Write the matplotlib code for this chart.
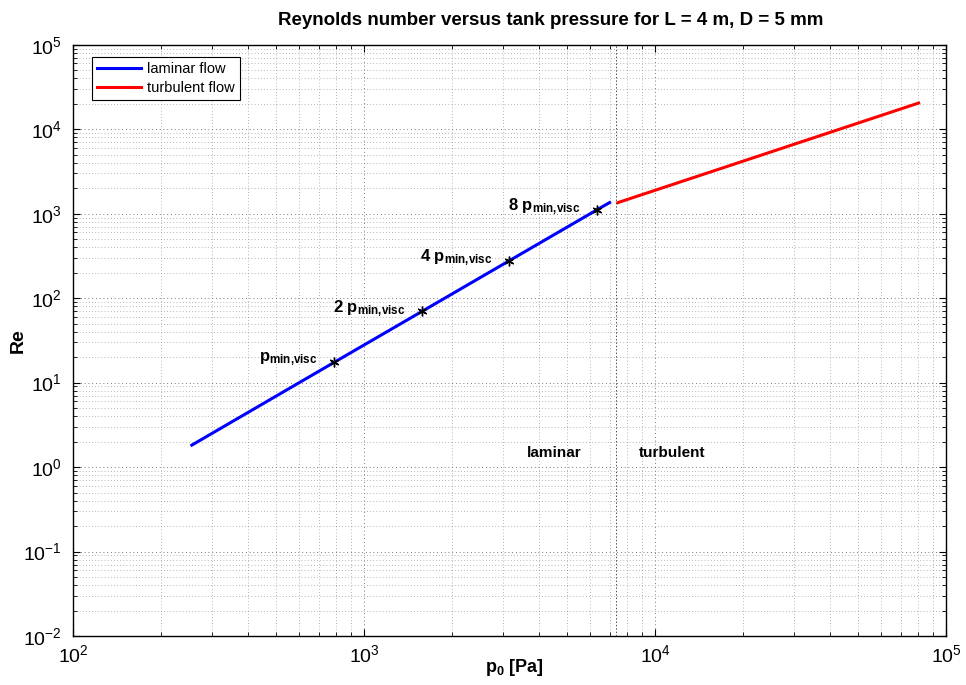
import numpy as np
from matplotlib import pyplot as plt
from matplotlib.ticker import LogLocator, NullFormatter

plt.rcParams['font.family'] = ['Liberation Sans', 'DejaVu Sans']
plt.rcParams['mathtext.fontset'] = 'custom'
plt.rcParams['mathtext.rm'] = 'Liberation Sans'
plt.rcParams['mathtext.it'] = 'Liberation Sans:italic'
plt.rcParams['mathtext.bf'] = 'Liberation Sans:bold'

# laminar branch
p_laminar = [256, 790, 1580, 3160, 6320, 6980]
Re_laminar = [1.82, 17.4, 69.5, 278, 1112, 1353]

# turbulent branch
p_turbulent = [7460, 80500]
Re_turbulent = [1353, 20400]

# marked multiples of p_min,visc
p_marks = [790, 1580, 3160, 6320]
Re_marks = [17.4, 69.5, 278, 1112]
mark_labels = [r'$\mathbf{p_{min{,}visc}}$', r'$\mathbf{2\ p_{min{,}visc}}$',
               r'$\mathbf{4\ p_{min{,}visc}}$', r'$\mathbf{8\ p_{min{,}visc}}$']

p_transition = 7330
region_labels = ['laminar', 'turbulent']
p_region = [5580, 8830]
Re_region = 1.45

fig = plt.figure(figsize=(9.66, 6.85), dpi=100)
ax = fig.add_axes([0.0756, 0.0715, 0.9037, 0.8632])

ax.loglog(p_laminar, Re_laminar, color=(0, 0, 1), lw=2.2, label='laminar flow')
ax.loglog(p_turbulent, Re_turbulent, color=(1, 0, 0), lw=2.2, label='turbulent flow')
ax.plot(p_marks, Re_marks, ls='none', marker=(6, 2, 0), color='k', ms=7, mew=1.0)
ax.axvline(p_transition, color='k', ls=(0, (1.5, 2)), lw=0.7, alpha=0.7)

for p, r, lab in zip(p_marks, Re_marks, mark_labels):
    ax.annotate(lab, (p, r), xytext=(-12, 2), textcoords='offset points',
                ha='right', va='center', fontsize=12)

ax.text(p_region[0], Re_region, region_labels[0], ha='right', va='center',
        fontsize=11, fontweight='bold')
ax.text(p_region[1], Re_region, region_labels[1], ha='left', va='center',
        fontsize=11, fontweight='bold')

ax.set_xlim(1e2, 1e5)
ax.set_ylim(1e-2, 1e5)
ax.xaxis.set_major_locator(LogLocator(base=10, numticks=10))
ax.yaxis.set_major_locator(LogLocator(base=10, numticks=10))
ax.xaxis.set_minor_locator(LogLocator(base=10, subs=np.arange(2, 10), numticks=20))
ax.yaxis.set_minor_locator(LogLocator(base=10, subs=np.arange(2, 10), numticks=20))
ax.xaxis.set_minor_formatter(NullFormatter())
ax.yaxis.set_minor_formatter(NullFormatter())

ax.grid(True, which='major', color='0.3', ls=(0, (1, 3.5)), lw=0.6)
ax.grid(True, which='minor', color='0.45', ls=(0, (1, 3.5)), lw=0.5)
ax.tick_params(which='both', direction='in', top=True, right=True)
ax.tick_params(axis='x', which='major', labelsize=14, pad=6)
ax.tick_params(axis='y', which='major', labelsize=14, pad=8)
ax.tick_params(which='major', length=5, width=0.8)
ax.tick_params(which='minor', length=3, width=0.6)
for s in ax.spines.values():
    s.set_linewidth(1.0)

ax.set_title('Reynolds number versus tank pressure for L = 4 m, D = 5 mm',
             fontsize=13.5, fontweight='bold', pad=14, x=0.5475)
ax.set_xlabel(r'$\mathbf{p_0}$ [Pa]', fontsize=13, fontweight='bold')
ax.set_ylabel('Re', fontsize=14, fontweight='bold')
ax.xaxis.set_label_coords(0.506, -0.036)
ax.yaxis.set_label_coords(-0.053, 0.5)

leg = ax.legend(loc='upper left', bbox_to_anchor=(19 / 873, 1 - 12 / 591),
                borderaxespad=0, fontsize=10.5, fancybox=False, framealpha=1,
                edgecolor='k', handlelength=3.0, borderpad=0.35,
                labelspacing=0.35, handletextpad=0.4)
leg.get_frame().set_linewidth(0.8)

fig.savefig('out.png', dpi=100)
